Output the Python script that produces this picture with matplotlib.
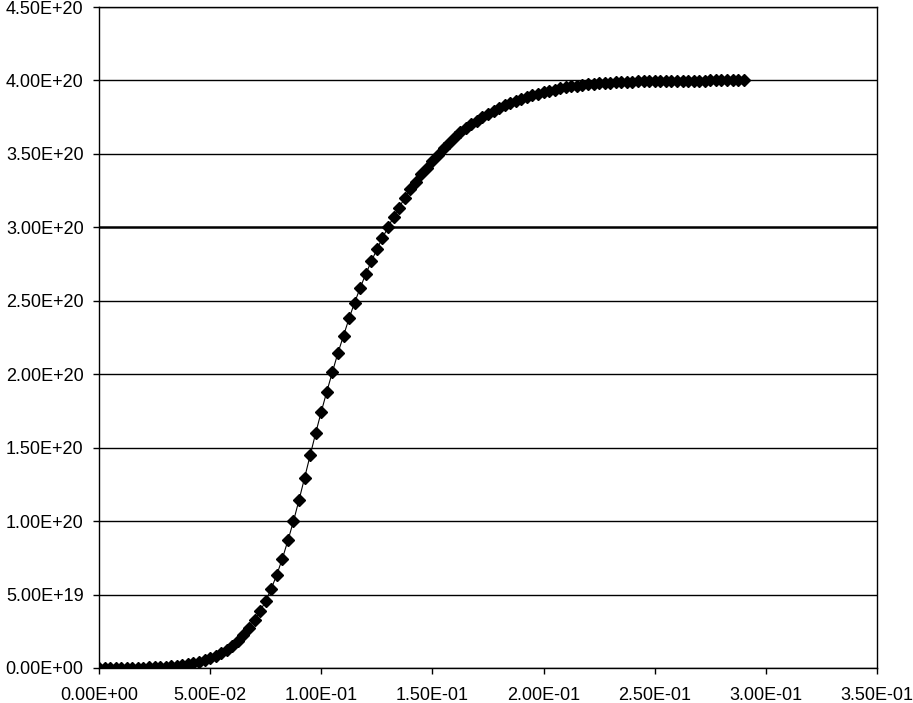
import numpy as np
from matplotlib import pyplot as plt
from matplotlib.ticker import FuncFormatter, MultipleLocator

# time step: one point every 0.0025
dt = 0.0025
n_pts = 117

# values, in units of 1e20
y_e20 = [0.000, 0.000, 0.000, 0.001, 0.001, 0.001, 0.002, 0.002, 0.003, 0.004,
         0.005, 0.007, 0.009, 0.012, 0.016, 0.020, 0.026, 0.033, 0.042, 0.053,
         0.066, 0.082, 0.101, 0.124, 0.151, 0.185, 0.225, 0.272, 0.327, 0.388,
         0.456, 0.540, 0.635, 0.745, 0.868, 1.000, 1.144, 1.295, 1.448, 1.600,
         1.745, 1.882, 2.015, 2.145, 2.262, 2.380, 2.488, 2.588, 2.682, 2.768,
         2.850, 2.927, 3.000, 3.070, 3.135, 3.198, 3.258, 3.310, 3.362, 3.406,
         3.455, 3.495, 3.538, 3.575, 3.612, 3.646, 3.676, 3.701, 3.726, 3.749,
         3.771, 3.792, 3.812, 3.831, 3.848, 3.862, 3.875, 3.888, 3.900, 3.911,
         3.921, 3.930, 3.938, 3.946, 3.953, 3.959, 3.964, 3.969, 3.973, 3.977,
         3.980, 3.983, 3.985, 3.987, 3.989, 3.991, 3.992, 3.993, 3.994, 3.995,
         3.996, 3.997, 3.997, 3.998, 3.998, 3.998, 3.999, 3.999, 3.999, 3.999,
         4.000, 4.000, 4.000, 4.000, 4.000, 4.000, 4.000]

t = np.arange(n_pts) * dt
y = np.array(y_e20) * 1e20

plt.rcParams['font.family'] = ['Liberation Sans', 'DejaVu Sans']

fig = plt.figure(figsize=(9.13, 7.03), dpi=100)
ax = fig.add_axes([0.1084, 0.0498, 0.8522, 0.9402])

ax.set_xlim(0, 0.35)
ax.set_ylim(0, 4.5e20)
ax.xaxis.set_major_locator(MultipleLocator(0.05))
ax.yaxis.set_major_locator(MultipleLocator(0.5e20))

sci = FuncFormatter(lambda v, pos: f"{v:.2E}")
ax.xaxis.set_major_formatter(sci)
ax.yaxis.set_major_formatter(sci)

# horizontal gridlines like Excel
ax.grid(axis='y', color='black', linewidth=1.0)
ax.set_axisbelow(True)

ax.plot(t, y, color='black', linewidth=0.8, marker='D', markersize=6,
        markerfacecolor='black', markeredgecolor='black')

for s in ax.spines.values():
    s.set_color('black')
    s.set_linewidth(1.0)

ax.tick_params(direction='out', length=4, width=1, color='black',
               labelsize=13)
ax.tick_params(axis='x', pad=10)
ax.tick_params(axis='y', pad=7)

# the 3.00E+20 gridline looks heavier in the original
for line, val in zip(ax.get_ygridlines(), ax.get_yticks()):
    if abs(val - 3e20) < 1e18:
        line.set_linewidth(1.8)

plt.savefig("out.png", dpi=100)
